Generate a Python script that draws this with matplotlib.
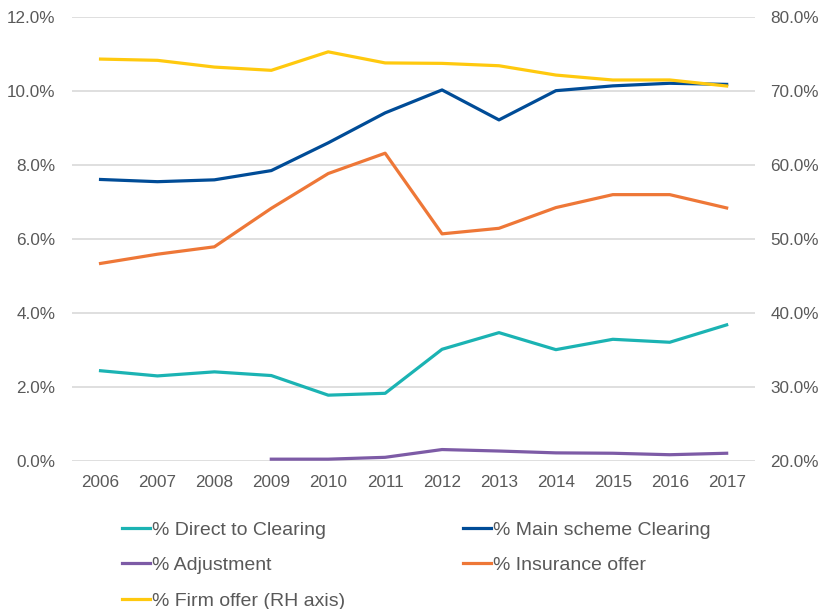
import matplotlib
matplotlib.use("Agg")
import matplotlib.pyplot as plt
import numpy as np
from matplotlib.ticker import FuncFormatter

years = ["2006", "2007", "2008", "2009", "2010", "2011", "2012", "2013", "2014", "2015", "2016", "2017"]
direct_clearing = [2.44, 2.30, 2.41, 2.31, 1.78, 1.83, 3.02, 3.47, 3.01, 3.29, 3.21, 3.68]
main_clearing = [7.61, 7.55, 7.60, 7.85, 8.60, 9.41, 10.03, 9.22, 10.01, 10.14, 10.21, 10.18]
adjustment = [np.nan, np.nan, np.nan, 0.05, 0.05, 0.10, 0.31, 0.27, 0.22, 0.21, 0.17, 0.21]
insurance_offer = [5.34, 5.59, 5.79, 6.83, 7.77, 8.32, 6.14, 6.29, 6.85, 7.20, 7.20, 6.84]
firm_offer = [74.32, 74.15, 73.24, 72.80, 75.30, 73.80, 73.74, 73.42, 72.16, 71.49, 71.50, 70.68]

plt.rcParams['font.family'] = ['Liberation Sans', 'DejaVu Sans']
grey = '#595959'

fig = plt.figure(figsize=(8.19, 6.09), dpi=100)
ax = fig.add_axes([0.088, 0.243, 0.834, 0.729])
ax2 = ax.twinx()

x = np.arange(len(years))
lw = 2.3
h1, = ax.plot(x, direct_clearing, color='#1BB3B3', lw=lw, label='% Direct to Clearing')
h2, = ax.plot(x, main_clearing, color='#004C97', lw=lw, label='% Main scheme Clearing')
h3, = ax.plot(x, adjustment, color='#7D5BA6', lw=lw, label='% Adjustment')
h4, = ax.plot(x, insurance_offer, color='#EE7737', lw=lw, label='% Insurance offer')
h5, = ax2.plot(x, firm_offer, color='#FFC90E', lw=lw, label='% Firm offer (RH axis)')

ax.set_xlim(-0.5, len(years) - 0.5)
ax.set_ylim(0, 12)
ax2.set_ylim(20, 80)
ax.set_yticks(np.arange(0, 12.1, 2))
ax2.set_yticks(np.arange(20, 80.1, 10))
ax.yaxis.set_major_formatter(FuncFormatter(lambda v, p: f"{v:.1f}%"))
ax2.yaxis.set_major_formatter(FuncFormatter(lambda v, p: f"{v:.1f}%"))
ax.set_xticks(x)
ax.set_xticklabels(years)

ax.grid(axis='y', color='#D9D9D9', lw=1.2)
ax.set_axisbelow(True)
for a in (ax, ax2):
    for s in a.spines.values():
        s.set_visible(False)
    a.tick_params(length=0, labelsize=12.3, colors=grey)
ax.tick_params(axis='y', pad=12)
ax2.tick_params(axis='y', pad=11)
ax.tick_params(axis='x', pad=10)

leg_kw = dict(loc='upper left', frameon=False, fontsize=14, handlelength=1.45,
              handletextpad=0.1, labelspacing=0.92, borderpad=0, borderaxespad=0,
              labelcolor=grey)
col1 = [h1, h3, h5]
col2 = [h2, h4]
fig.legend(handles=col1, labels=[h.get_label() for h in col1],
           bbox_to_anchor=(122 / 819, 1 - 521 / 609), **leg_kw)
fig.legend(handles=col2, labels=[h.get_label() for h in col2],
           bbox_to_anchor=(463 / 819, 1 - 521 / 609), **leg_kw)

fig.savefig("out.png", dpi=100)
